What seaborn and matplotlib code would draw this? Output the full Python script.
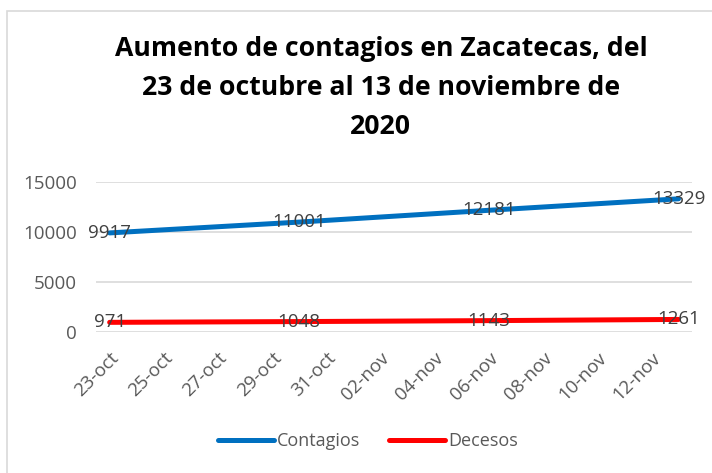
import pandas as pd
import matplotlib.pyplot as plt
import matplotlib.dates as mdates
from matplotlib.patches import Rectangle
from matplotlib.ticker import FuncFormatter
import seaborn as sns

fechas = ['2020-10-23', '2020-10-30', '2020-11-06', '2020-11-13']
contagios = [9917, 11001, 12181, 13329]
decesos = [971, 1048, 1143, 1261]
titulo = 'Aumento de contagios en Zacatecas, del\n23 de octubre al 13 de noviembre de\n2020'

meses = {10: 'oct', 11: 'nov'}

df = pd.DataFrame({'Fecha': pd.to_datetime(fechas), 'Contagios': contagios, 'Decesos': decesos})

sns.set_style('white')
plt.rcParams['font.family'] = ['Open Sans', 'DejaVu Sans']

fig = plt.figure(figsize=(7.12, 4.73), dpi=100)
ax = fig.add_axes([0.135, 0.298, 0.837, 0.317])

sns.lineplot(data=df, x='Fecha', y='Contagios', color='#0070C0', linewidth=3.6, label='Contagios', ax=ax)
sns.lineplot(data=df, x='Fecha', y='Decesos', color='#FF0000', linewidth=3.6, label='Decesos', ax=ax)

# etiquetas de datos centradas en el punto
for col in ['Contagios', 'Decesos']:
    for f, v in zip(df['Fecha'], df[col]):
        ax.text(f, v, str(v), ha='center', va='center', fontsize=13.5, color='#404040')

inicio = df['Fecha'].min() - pd.Timedelta(hours=12)
fin = df['Fecha'].max() + pd.Timedelta(hours=12)
ax.set_xlim(inicio, fin)
ax.set_ylim(0, 15000)
ax.set_yticks([0, 5000, 10000, 15000])

ticks = pd.date_range('2020-10-23', '2020-11-12', freq='2D')
ax.set_xticks(ticks)
ax.xaxis.set_major_formatter(FuncFormatter(
    lambda x, pos: '%02d-%s' % (mdates.num2date(x).day, meses[mdates.num2date(x).month])))
plt.setp(ax.get_xticklabels(), rotation=45, ha='right', rotation_mode='anchor')
ax.tick_params(axis='both', labelsize=13.5, labelcolor='#595959', length=0)
ax.tick_params(axis='y', pad=14)
ax.tick_params(axis='x', pad=12)

ax.grid(axis='y', color='#D9D9D9', linewidth=1.2)
ax.set_axisbelow(True)
for s in ax.spines.values():
    s.set_visible(False)
ax.set_xlabel('')
ax.set_ylabel('')

ax.legend_.remove()
handles, labels = ax.get_legend_handles_labels()
for h in handles:
    h.set_solid_capstyle('round')
fig.legend(handles, labels, loc='center', bbox_to_anchor=(0.517, 0.068), ncol=2, frameon=False,
           fontsize=13, handlelength=3.1, handletextpad=0.15, columnspacing=1.6,
           labelcolor='#595959')

fig.text(0.535, 0.814, titulo, ha='center', va='center', fontsize=19.2, fontweight='bold',
         linespacing=1.67, color='black')

fig.patches.append(Rectangle((7 / 712, -0.1), 1.2, 1 - 11 / 473 + 0.1, transform=fig.transFigure,
                             fill=False, edgecolor='#D9D9D9', linewidth=1.2))

plt.savefig('out.png', dpi=100)
plt.close()
